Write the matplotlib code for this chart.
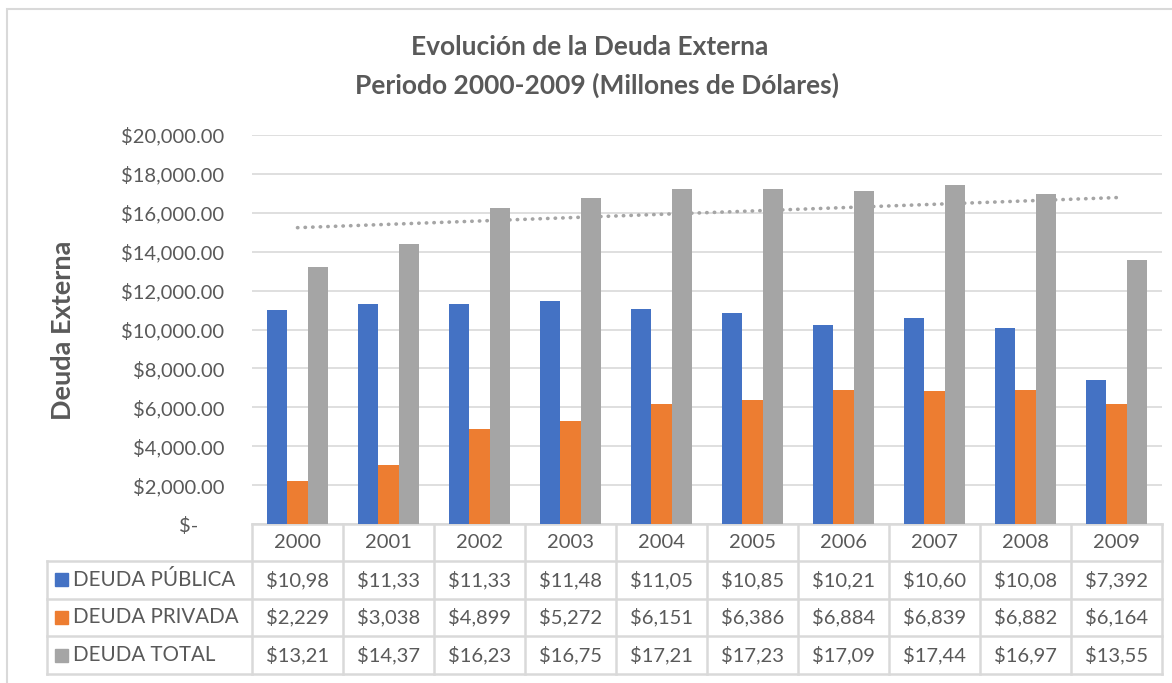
import numpy as np
import matplotlib.pyplot as plt
from matplotlib.patches import Rectangle
from matplotlib.transforms import blended_transform_factory

# datos (millones de dólares)
years = ["2000", "2001", "2002", "2003", "2004", "2005", "2006", "2007", "2008", "2009"]
deuda_publica = [10985, 11335, 11335, 11483, 11059, 10851, 10212, 10604, 10089, 7392]
deuda_privada = [2229, 3038, 4899, 5272, 6151, 6386, 6884, 6839, 6882, 6164]
deuda_total = [a + b for a, b in zip(deuda_publica, deuda_privada)]

series_names = ["DEUDA PÚBLICA", "DEUDA PRIVADA", "DEUDA TOTAL"]
colors = ["#4472C4", "#ED7D31", "#A5A5A5"]
txt = "#595959"
grid_c = "#D9D9D9"

plt.rcParams['font.family'] = ['Lato', 'DejaVu Sans']

W, H = 1172, 683
fig = plt.figure(figsize=(W / 100, H / 100), dpi=100)

def fx(px):
    return px / W

def fy(py):
    return 1 - py / H

# zona de trazado
x0, x1, ytop, ybot = 252, 1162, 135, 524
ax = fig.add_axes([fx(x0), fy(ybot), fx(x1) - fx(x0), fy(ytop) - fy(ybot)])

x = np.arange(len(years))
bw = 0.22
for i, vals in enumerate([deuda_publica, deuda_privada, deuda_total]):
    ax.bar(x + (i - 1) * bw, vals, bw, color=colors[i], zorder=3)

# linea de tendencia lineal sobre la deuda total
coef = np.polyfit(x, deuda_total, 1)
ax.plot(x, np.polyval(coef, x), color="#A5A5A5", lw=2.6,
        linestyle=(0, (0.1, 2.0)), dash_capstyle="round", zorder=4)

ax.set_xlim(-0.5, len(years) - 0.5)
ax.set_ylim(0, 20000)
ticks = np.arange(0, 20001, 2000)
ax.set_yticks(ticks)
ax.set_yticklabels(["$-     " if v == 0 else f"${v:,.2f}" for v in ticks])
ax.tick_params(axis="y", length=0, pad=20, labelsize=14.5, labelcolor=txt)
ax.set_xticks([])
ax.grid(axis="y", color=grid_c, lw=1.2, zorder=0)
for s in ax.spines.values():
    s.set_visible(False)

# titulo y eje
fig.text(fx(590), fy(47), "Evolución de la Deuda Externa", ha="center", va="center",
         fontsize=19, fontweight="bold", color=txt)
fig.text(fx(597), fy(85), "Periodo 2000-2009 (Millones de Dólares)", ha="center", va="center",
         fontsize=19, fontweight="bold", color=txt)
fig.text(fx(63), fy(330), "Deuda Externa", ha="center", va="center", rotation=90,
         fontsize=19.5, fontweight="bold", color=txt)

# tabla de datos debajo del grafico
tr = blended_transform_factory(ax.transData, fig.transFigure)
rows_y = [524, 561, 598.5, 636, 674]
xl = 47
lkw = dict(color=grid_c, lw=1.8, clip_on=False)
# lineas horizontales
ax.plot([-0.5, len(years) - 0.5], [fy(524)] * 2, transform=tr, **lkw)
for yy in rows_y[1:]:
    fig.add_artist(plt.Line2D([fx(xl), fx(x1)], [fy(yy)] * 2, **lkw))
# lineas verticales
for k in range(len(years) + 1):
    ax.plot([k - 0.5, k - 0.5], [fy(524), fy(rows_y[-1])], transform=tr, **lkw)
fig.add_artist(plt.Line2D([fx(xl), fx(xl)], [fy(561), fy(rows_y[-1])], **lkw))

for k, yr in enumerate(years):
    ax.text(k, fy((524 + 561) / 2), yr, transform=tr, ha="center", va="center",
            fontsize=14.5, color=txt)

for r, (name, vals) in enumerate(zip(series_names, [deuda_publica, deuda_privada, deuda_total])):
    yc = (rows_y[r + 1] + rows_y[r + 2]) / 2
    fig.add_artist(Rectangle((fx(55), fy(yc + 6.5)), fx(13), fy(0) - fy(13),
                             color=colors[r], transform=fig.transFigure))
    fig.text(fx(73), fy(yc), name, ha="left", va="center", fontsize=14.8, color=txt)
    for k, v in enumerate(vals):
        s = f"${v:,.0f}"[:6]  # la celda recorta el numero
        ax.text(k, fy(yc), s, transform=tr, ha="center", va="center",
                fontsize=14.5, color=txt)

# marco del grafico
fig.add_artist(Rectangle((fx(7), fy(H + 5)), fx(W + 10), fy(9) - fy(H + 5),
                         fill=False, edgecolor=grid_c, lw=1.5, transform=fig.transFigure))

fig.savefig("out.png", dpi=100)
